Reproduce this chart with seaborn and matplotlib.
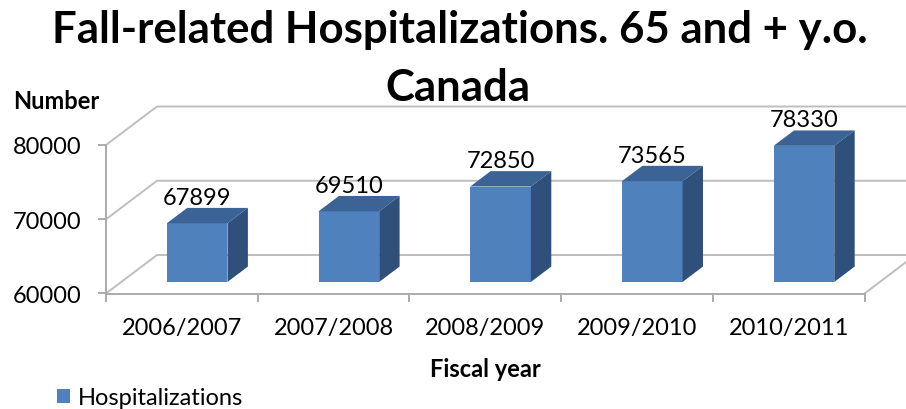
import matplotlib
matplotlib.use("Agg")
import matplotlib.pyplot as plt
from matplotlib.patches import Polygon
from matplotlib.lines import Line2D
from matplotlib.transforms import Affine2D, Bbox, TransformedBbox
import seaborn as sns
import pandas as pd

# ---- data ----
years = ["2006/2007", "2007/2008", "2008/2009", "2009/2010", "2010/2011"]
hospitalizations = [67899, 69510, 72850, 73565, 78330]
y_ticks = [60000, 70000, 80000]

title_lines = ["Fall-related Hospitalizations. 65 and + y.o.", "Canada"]
series_name = "Hospitalizations"
x_title = "Fiscal year"
y_title = "Number"

# ---- style ----
FRONT = "#4F81BD"
TOP = "#3C6396"
SIDE = "#2F507B"
GRID = "#BEBEBE"
AXIS = "#ABABAB"

sns.set_style("white")
plt.rcParams["font.family"] = ["Lato", "DejaVu Sans"]
plt.rcParams["text.color"] = "black"
plt.rcParams["axes.labelcolor"] = "black"
plt.rcParams["xtick.color"] = "black"
plt.rcParams["ytick.color"] = "black"

W, H = 906, 410
fig = plt.figure(figsize=(W / 100, H / 100), dpi=100)
ax = fig.add_axes([106 / W, (H - 294.5) / H, 758.5 / W, 148.5 / H])

df = pd.DataFrame({"year": years, "hosp": hospitalizations})

YMIN, YMAX = y_ticks[0], y_ticks[-1]
n = len(years)

# oblique projection of the depth axis (one full depth unit, in data units)
DX = 51 / 151.7
DY = 38.5 * (YMAX - YMIN) / 148.5
Z0, Z1 = 0.30, 0.70      # front / back of the columns inside the floor
BAR_W = 0.40


def proj(x, v, z):
    return x + z * DX, v + z * DY


# front faces of the columns
sns.barplot(data=df, x="year", y="hosp", color=FRONT, saturation=1,
            width=BAR_W, label=series_name, linewidth=0, zorder=3, ax=ax)
ax.set_xlim(-0.5, n - 0.5)
ax.set_ylim(YMIN, YMAX)

front = Affine2D().translate(Z0 * DX, Z0 * DY) + ax.transData
floor_clip = TransformedBbox(Bbox.from_extents(-1, YMIN, n + 1, YMAX * 10), front)
for patch in ax.containers[0].patches:
    patch.set_transform(front)
    patch.set_clip_path(None)
    patch.set_clip_box(floor_clip)

# side wall, back wall gridlines and floor edge
x0, x1 = -0.5, n - 0.5
for t in y_ticks:
    ax.add_line(Line2D([x0, x0 + DX, x1 + DX], [t, t + DY, t + DY],
                       color=GRID, lw=1.4, clip_on=False, zorder=0.5))
ax.add_line(Line2D([x1, x1 + DX], [YMIN, YMIN + DY],
                   color=GRID, lw=1.4, clip_on=False, zorder=0.5))

# top and side faces + value labels
for i, v in enumerate(hospitalizations):
    xl, xr = i - BAR_W / 2, i + BAR_W / 2
    top = [proj(xl, v, Z0), proj(xr, v, Z0), proj(xr, v, Z1), proj(xl, v, Z1)]
    side = [proj(xr, YMIN, Z0), proj(xr, v, Z0), proj(xr, v, Z1), proj(xr, YMIN, Z1)]
    ax.add_patch(Polygon(top, closed=True, facecolor=TOP, edgecolor="none",
                         clip_on=False, zorder=3))
    ax.add_patch(Polygon(side, closed=True, facecolor=SIDE, edgecolor="none",
                         clip_on=False, zorder=3))
    ax.annotate(f"{v}", xy=(i + Z0 * DX, v + Z1 * DY), xytext=(0, 3),
                textcoords="offset points", ha="center", va="baseline",
                fontsize=17, annotation_clip=False, zorder=4)

# axes
for s in ["top", "right"]:
    ax.spines[s].set_visible(False)
for s in ["left", "bottom"]:
    ax.spines[s].set_color(AXIS)
    ax.spines[s].set_linewidth(1.4)

ax.set_yticks(y_ticks)
ax.set_yticklabels([str(t) for t in y_ticks])
ax.tick_params(axis="y", left=True, length=6, width=1.4, color=AXIS,
               pad=12, labelsize=17)
ax.set_xticks(range(n), years)
ax.set_xticks([i - 0.5 for i in range(n + 1)], minor=True)
ax.tick_params(axis="x", which="major", bottom=True, length=0, pad=17, labelsize=17)
ax.tick_params(axis="x", which="minor", bottom=True, length=6, width=1.4, color=AXIS)

ax.set_xlabel(x_title, fontsize=17, fontweight="bold")
ax.xaxis.set_label_coords(0.5, (294.5 - 370) / 148.5)
ax.xaxis.label.set_va("center")
ax.set_ylabel(y_title, rotation=0, fontsize=17, fontweight="bold")
ax.yaxis.set_label_coords((56 - 106) / 758.5, (294.5 - 101) / 148.5)
ax.yaxis.label.set_va("center")
ax.yaxis.label.set_ha("center")

ax.legend(loc="center left", bbox_to_anchor=(57 / W, 1 - 399 / H),
          bbox_transform=fig.transFigure, frameon=False, fontsize=17,
          handlelength=0.55, handleheight=0.55, handletextpad=0.35,
          borderpad=0, borderaxespad=0)

# two-line chart title
for line, x_px, base_px in zip(title_lines, [460, 458], [43, 101]):
    fig.text(x_px / W, 1 - base_px / H, line, ha="center", va="baseline",
             fontsize=31.5, fontweight="bold")

fig.savefig("out.png", dpi=100)
